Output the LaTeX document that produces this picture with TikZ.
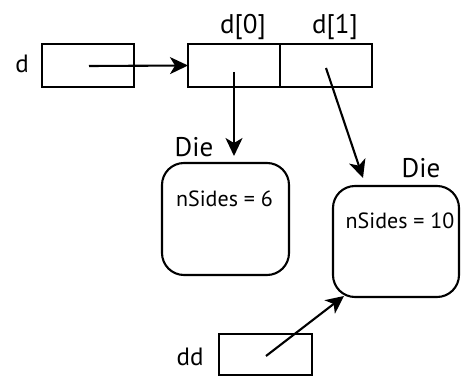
\documentclass[tikz,border=0pt]{standalone}
\usepackage{fontspec}
\setmainfont{PT Sans}
\usetikzlibrary{arrows.meta}
\begin{document}
\begin{tikzpicture}[x=1pt,y=-1pt,line width=2.1pt,
  cell/.style={draw,minimum width=92pt,minimum height=43pt,inner sep=0pt,outer sep=0pt},
  obj/.style={draw,rounded corners=22pt,minimum width=126pt,minimum height=111pt,inner sep=0pt,outer sep=0pt},
  lbl/.style={anchor=base,inner sep=0pt,font=\fontsize{27}{30}\selectfont},
  nlbl/.style={anchor=base,inner sep=0pt,font=\fontsize{25}{28}\selectfont},
  vlbl/.style={anchor=base,inner sep=0pt,font=\fontsize{22}{26}\selectfont},
  ptr/.style={-{Stealth[length=18pt,width=17pt,inset=5pt]},line width=2.1pt}]
\useasboundingbox (0,0) rectangle (461,377);
% boxes
\node[cell] (d) at (88,65.5) {};
\node[cell] (c0) at (234,65.5) {};
\node[cell] (c1) at (326,65.5) {};
\node[obj,minimum width=127pt,minimum height=112pt] (die1) at (225.5,219) {};
\node[obj] (die2) at (396,241.5) {};
\node[cell,minimum width=93pt,minimum height=41pt] (dd) at (265.5,354.5) {};
% labels
\node[nlbl] (dl) at (22,73) {d};
\node[lbl] (c0l) at (243,34) {d[0]};
\node[lbl] (c1l) at (335,34) {d[1]};
\node[lbl] (die1l) at (194,157) {Die};
\node[lbl] (die2l) at (421,178) {Die};
\node[nlbl] (ddl) at (190,365) {dd};
\node[vlbl] (v1) at (224.5,207) {nSides = 6};
\node[vlbl] (v2) at (400,229) {nSides = 10};
% pointer origins and targets
\coordinate (ps) at (89,66);
\coordinate (p0) at (234,72);
\coordinate (t0) at (234,156);
\coordinate (p1) at (326,68);
\coordinate (t1) at (363,178);
\coordinate (pd) at (266,356);
\coordinate (td) at (344,296);
\draw[ptr] (ps) -- (c0.west);
\draw[ptr] (p0) -- (t0);
\draw[ptr] (p1) -- (t1);
\draw[ptr] (pd) -- (td);
\end{tikzpicture}
\end{document}
